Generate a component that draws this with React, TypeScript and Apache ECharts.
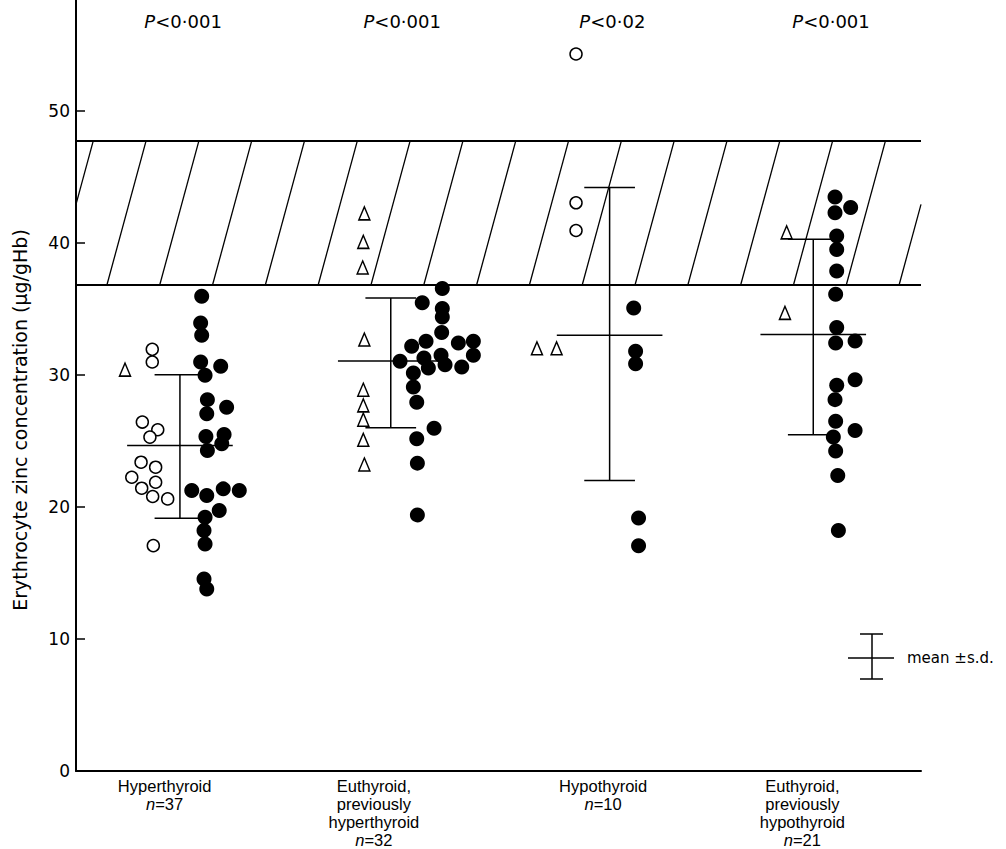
import React, { useEffect, useRef } from "react";
import * as echarts from "echarts";

// ---------- data ----------
const groupLabels = [
  "Hyperthyroid",
  "Euthyroid,\npreviously\nhyperthyroid",
  "Hypothyroid",
  "Euthyroid,\npreviously\nhypothyroid",
];
const groupN = ["37", "32", "10", "21"];
const pTexts = ["<0·001", "<0·001", "<0·02", "<0·001"];
const pLabelX = [0.007, 1.044, 2.039, 3.074];
const pLabelY = 56.8;
const yTicks = [0, 10, 20, 30, 40, 50];
const normalRange = [36.85, 47.75];
const yTitle = "Erythrocyte zinc concentration (μg/gHb)";
const legendText = "mean ±s.d.";

// open circles [x, value]
const openCircles: [number, number][] = [
  [-0.139, 31.94], [-0.139, 30.98], [-0.186, 26.43], [-0.113, 25.85], [-0.15, 25.29],
  [-0.192, 23.39], [-0.123, 23.01], [-0.236, 22.25], [-0.123, 21.87], [-0.189, 21.42],
  [-0.137, 20.79], [-0.066, 20.61], [-0.134, 17.07],
  [1.867, 54.31], [1.867, 43.04], [1.867, 40.94],
];

// open triangles [x, value]
const triangles: [number, number][] = [
  [-0.268, 30.4],
  [0.865, 42.24], [0.86, 40.08], [0.857, 38.14], [0.865, 32.68], [0.86, 28.88],
  [0.86, 27.69], [0.86, 26.61], [0.86, 25.09], [0.865, 23.22],
  [1.682, 32.02], [1.775, 32.02],
  [2.864, 40.8], [2.856, 34.7],
];

// filled circles [x, value]
const filledCircles: [number, number][] = [
  // hyperthyroid
  [0.095, 35.96], [0.09, 33.94], [0.095, 33.0], [0.09, 30.98], [0.185, 30.65],
  [0.111, 29.97], [0.122, 28.13], [0.213, 27.56], [0.119, 27.06], [0.115, 25.34],
  [0.201, 25.49], [0.122, 24.28], [0.19, 24.79], [0.048, 21.24], [0.119, 20.86],
  [0.197, 21.37], [0.273, 21.24], [0.178, 19.73], [0.111, 19.22], [0.106, 18.21],
  [0.111, 17.2], [0.106, 14.54], [0.119, 13.79],
  // euthyroid, previously hyperthyroid
  [1.234, 36.55], [1.139, 35.46], [1.234, 35.03], [1.234, 34.39], [1.231, 33.21],
  [1.157, 32.55], [1.089, 32.17], [1.31, 32.42], [1.381, 32.55], [1.381, 31.49],
  [1.034, 31.03], [1.147, 31.28], [1.228, 31.49], [1.168, 30.52], [1.247, 30.78],
  [1.326, 30.6], [1.097, 30.14], [1.097, 29.08], [1.113, 27.94], [1.195, 25.97],
  [1.113, 25.17], [1.116, 23.32], [1.116, 19.4],
  // hypothyroid
  [2.14, 35.07], [2.149, 31.79], [2.149, 30.84], [2.163, 19.16], [2.163, 17.06],
  // euthyroid, previously hypothyroid
  [3.093, 43.47], [3.167, 42.69], [3.093, 42.28], [3.101, 40.52], [3.101, 39.51],
  [3.101, 37.88], [3.096, 36.12], [3.101, 33.59], [3.096, 32.42], [3.188, 32.57],
  [3.188, 29.64], [3.101, 29.21], [3.093, 28.13], [3.096, 26.5], [3.188, 25.8],
  [3.085, 25.29], [3.096, 24.23], [3.106, 22.38], [3.109, 18.21],
];

// mean ± s.d. [x, low, mean, high]
const meanSd: [number, number, number, number][] = [
  [-0.008, 19.14, 24.66, 30.02],
  [0.99, 26.0, 31.05, 35.83],
  [2.026, 22.0, 33.0, 44.2],
  [2.99, 25.47, 33.06, 40.27],
];

// ---------- layout / style constants ----------
const CAP_HALF = 0.12;
const MEAN_HALF = 0.25;
const HATCH_STEP = 0.25;
const HATCH_PHASE = -0.603;
const HATCH_LEAN = 0.185;
const HATCH_COUNT = 17;
const X_MIN = -0.5;
const X_MAX = 3.5;
const labelShiftPad = [34, 38, 2, 26];
const INK = "#000";

const hatchStarts: number[][] = [];
for (let k = 0; k < HATCH_COUNT; k++) hatchStarts.push([HATCH_PHASE + k * HATCH_STEP, normalRange[0]]);

export default function App() {
  const ref = useRef<HTMLDivElement>(null);
  useEffect(() => {
    if (!ref.current) return;
    const chart = echarts.init(ref.current, undefined, { renderer: "svg" });

    const rich: Record<string, any> = {};
    groupLabels.forEach((_, i) => {
      rich["p" + i] = {
        fontFamily: "Liberation Sans",
        fontSize: 16.5,
        color: INK,
        lineHeight: 18,
        padding: [0, labelShiftPad[i], 0, 0],
      };
      rich["i" + i] = {
        fontFamily: "Liberation Sans",
        fontSize: 16.5,
        fontStyle: "italic",
        color: INK,
        lineHeight: 18,
      };
    });

    const lineStyle = { stroke: INK, lineWidth: 1.5 };

    const option: any = {
      animation: false,
      backgroundColor: "#fff",
      grid: { left: 76, right: 85, top: 0, bottom: 78, containLabel: false },
      xAxis: [
        {
          type: "category",
          data: groupLabels.map((_, i) => String(i)),
          boundaryGap: true,
          axisLine: { show: true, onZero: false, lineStyle: { color: INK, width: 2 } },
          axisTick: { show: false },
          axisLabel: {
            margin: 6,
            interval: 0,
            formatter: (v: string) => {
              const i = Number(v);
              const lines = groupLabels[i].split("\n").map((l) => `{p${i}|${l}}`);
              lines.push(`{i${i}|n}{p${i}|=${groupN[i]}}`);
              return lines.join("\n");
            },
            rich,
          },
          splitLine: { show: false },
        },
        {
          type: "value",
          min: X_MIN,
          max: X_MAX,
          show: false,
          axisLine: { onZero: false },
          splitLine: { show: false },
        },
      ],
      yAxis: {
        type: "value",
        min: 0,
        max: 58.4,
        interval: 10,
        axisLine: { show: true, onZero: false, lineStyle: { color: INK, width: 2 } },
        axisTick: { show: true, inside: true, length: 9, lineStyle: { color: INK, width: 1.5 }, customValues: yTicks },
        axisLabel: {
          margin: 6,
          fontFamily: "DejaVu Sans",
          fontSize: 17,
          color: INK,
          customValues: yTicks,
          formatter: (v: number) => (yTicks.includes(v) ? String(v) : ""),
        },
        splitLine: { show: false },
      },
      series: [
        {
          type: "custom",
          name: "hatch",
          xAxisIndex: 1,
          yAxisIndex: 0,
          clip: false,
          silent: true,
          encode: { x: 0, y: 1 },
          data: hatchStarts,
          renderItem: (_p: any, api: any) => {
            const xb = api.value(0);
            const lo = normalRange[0];
            const hi = normalRange[1];
            let x1 = xb, y1 = lo, x2 = xb + HATCH_LEAN, y2 = hi;
            if (x1 < X_MIN) {
              const t = (X_MIN - xb) / HATCH_LEAN;
              x1 = X_MIN;
              y1 = lo + t * (hi - lo);
            }
            if (x2 > X_MAX) {
              const t = (X_MAX - xb) / HATCH_LEAN;
              x2 = X_MAX;
              y2 = lo + t * (hi - lo);
            }
            if (x1 >= X_MAX || x2 <= X_MIN) return null;
            const a = api.coord([x1, y1]);
            const b = api.coord([x2, y2]);
            return {
              type: "line",
              shape: { x1: a[0], y1: a[1], x2: b[0], y2: b[1] },
              style: { stroke: INK, lineWidth: 1.3 },
            };
          },
          markLine: {
            silent: true,
            symbol: "none",
            label: { show: false },
            lineStyle: { color: INK, width: 2, type: "solid", opacity: 1 },
            data: normalRange.map((v) => ({ yAxis: v })),
          },
        },
        {
          type: "custom",
          name: "mean sd",
          xAxisIndex: 1,
          yAxisIndex: 0,
          clip: false,
          encode: { x: 0, y: [1, 2, 3] },
          data: meanSd,
          z: 3,
          renderItem: (_p: any, api: any) => {
            const x = api.value(0);
            const lo = api.coord([x, api.value(1)]);
            const mu = api.coord([x, api.value(2)]);
            const hi = api.coord([x, api.value(3)]);
            const cap = api.size([CAP_HALF, 0])[0];
            const mw = api.size([MEAN_HALF, 0])[0];
            return {
              type: "group",
              children: [
                { type: "line", shape: { x1: lo[0], y1: lo[1], x2: hi[0], y2: hi[1] }, style: lineStyle },
                { type: "line", shape: { x1: hi[0] - cap, y1: hi[1], x2: hi[0] + cap, y2: hi[1] }, style: lineStyle },
                { type: "line", shape: { x1: lo[0] - cap, y1: lo[1], x2: lo[0] + cap, y2: lo[1] }, style: lineStyle },
                { type: "line", shape: { x1: mu[0] - mw, y1: mu[1], x2: mu[0] + mw, y2: mu[1] }, style: lineStyle },
              ],
            };
          },
        },
        {
          type: "scatter",
          name: "filled",
          xAxisIndex: 1,
          yAxisIndex: 0,
          symbol: "circle",
          symbolSize: 15,
          z: 4,
          itemStyle: { color: INK, opacity: 1 },
          data: filledCircles,
        },
        {
          type: "scatter",
          name: "open",
          xAxisIndex: 1,
          yAxisIndex: 0,
          symbol: "circle",
          symbolSize: 12,
          z: 4,
          itemStyle: { color: "#fff", borderColor: INK, borderWidth: 1.5, opacity: 1 },
          data: openCircles,
        },
        {
          type: "scatter",
          name: "triangle",
          xAxisIndex: 1,
          yAxisIndex: 0,
          symbol: "triangle",
          symbolSize: [11, 13],
          z: 4,
          itemStyle: { color: "#fff", borderColor: INK, borderWidth: 1.5, opacity: 1 },
          data: triangles,
        },
        {
          type: "scatter",
          name: "p",
          xAxisIndex: 1,
          yAxisIndex: 0,
          symbol: "circle",
          symbolSize: 1,
          silent: true,
          itemStyle: { color: "rgba(0,0,0,0)", opacity: 1 },
          label: {
            show: true,
            position: "inside",
            formatter: (p: any) => `{i|P}{r|${pTexts[p.dataIndex]}}`,
            rich: {
              i: { fontFamily: "DejaVu Sans", fontSize: 18, fontStyle: "italic", color: INK },
              r: { fontFamily: "DejaVu Sans", fontSize: 18, color: INK },
            },
          },
          data: pLabelX.map((x) => [x, pLabelY]),
        },
      ],
      graphic: [
        {
          type: "text",
          x: 20,
          y: 420,
          rotation: Math.PI / 2,
          silent: true,
          style: {
            text: yTitle,
            fontFamily: "DejaVu Sans",
            fontSize: 19,
            fill: INK,
            align: "center",
            verticalAlign: "middle",
          },
        },
        {
          type: "group",
          silent: true,
          children: [
            { type: "line", shape: { x1: 872, y1: 634, x2: 872, y2: 679 }, style: lineStyle },
            { type: "line", shape: { x1: 860, y1: 634, x2: 883, y2: 634 }, style: lineStyle },
            { type: "line", shape: { x1: 860, y1: 679, x2: 883, y2: 679 }, style: lineStyle },
            { type: "line", shape: { x1: 848, y1: 658, x2: 894, y2: 658 }, style: lineStyle },
            {
              type: "text",
              x: 907,
              y: 658,
              style: {
                text: legendText,
                fontFamily: "DejaVu Sans",
                fontSize: 15,
                fill: INK,
                verticalAlign: "middle",
                align: "left",
              },
            },
          ],
        },
      ],
    };

    chart.setOption(option);
    return () => chart.dispose();
  }, []);

  return (
    <div
      ref={ref}
      style={{ position: "absolute", left: 0, top: 0, width: 1006, height: 849, background: "#fff" }}
    />
  );
}
